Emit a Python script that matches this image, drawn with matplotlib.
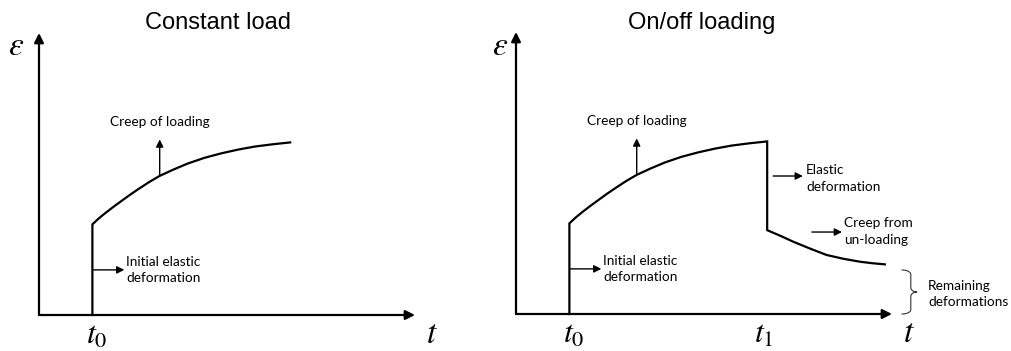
import matplotlib.pyplot as plt
import numpy as np

plt.rcParams['mathtext.fontset'] = 'stix'

# creep curve while loaded (arbitrary units)
t0 = 1.42
load_t = [1.42, 1.58, 1.75, 1.97, 2.19, 2.41, 2.63, 2.92, 3.21, 3.58, 3.96,
          4.40, 4.85, 5.30, 5.74, 6.21, 6.68]
load_eps = [2.41, 2.56, 2.70, 2.87, 3.03, 3.19, 3.34, 3.53, 3.70, 3.87, 4.03,
            4.18, 4.30, 4.40, 4.48, 4.54, 4.59]

# on/off case: unloading at t1
t1 = 6.68
unload_t = [6.68, 7.03, 7.38, 7.82, 8.26, 8.70, 9.15, 9.48, 9.81]
unload_eps = [2.23, 2.08, 1.92, 1.74, 1.57, 1.47, 1.39, 1.35, 1.32]
remaining = 1.17

titles = ['Constant load', 'On/off loading']

W, H = 1011, 351
fig = plt.figure(figsize=(W / 100, H / 100), dpi=100)

small = dict(family='Lato', fontsize=9.8, color='black', linespacing=1.45)
arrow_kw = dict(arrowstyle='-|>', lw=1.0, color='black', mutation_scale=11,
                shrinkA=0, shrinkB=0)


def make_axes(x0, y0):
    # 37.6 px per unit in both directions
    ax = fig.add_axes([x0 / W, (H - y0) / H, 376 / W, 282 / H])
    ax.set_xlim(0, 10)
    ax.set_ylim(0, 7.5)
    ax.axis('off')
    # axes with arrow heads
    for tip in [(10, 0), (0, 7.5)]:
        ax.annotate('', xy=tip, xytext=(0, 0), annotation_clip=False,
                    arrowprops=dict(arrowstyle='-|>', lw=1.6, color='black',
                                    mutation_scale=14, shrinkA=0, shrinkB=0))
    return ax


def arrow(ax, start, end):
    ax.annotate('', xy=end, xytext=start, annotation_clip=False, arrowprops=arrow_kw)


axes = [make_axes(39, 315), make_axes(516, 314)]

for i, ax in enumerate(axes):
    # loading path
    xs = [t0] + load_t
    ys = [0] + load_eps
    if i == 1:
        xs = xs + [t1] + unload_t
        ys = ys + [unload_eps[0]] + unload_eps
    ax.plot(xs, ys, color='black', lw=1.6, clip_on=False, solid_joinstyle='miter')

    # labels on axes
    ax.text(10.45, -0.5, '$t$', fontsize=24, ha='center', va='center')
    ax.text(t0 + 0.12, -0.55, r'$t_{\mathrm{0}}$', fontsize=23, ha='center', va='center')

    # creep annotation
    arrow(ax, (load_t[8], load_eps[8]), (load_t[8], 4.67))
    ax.text(load_t[8], 5.12, 'Creep of loading', ha='center', va='center', **small)

    # initial elastic
    arrow(ax, (t0, 1.2), (t0 + 0.85, 1.2))
    ax.text(t0 + 0.9, 1.2, 'Initial elastic\ndeformation', ha='left', va='center', **small)

axes[0].text(-0.61, 7.18, r'$\varepsilon$', fontsize=24, ha='center', va='center')
axes[1].text(-0.43, 7.15, r'$\varepsilon$', fontsize=24, ha='center', va='center')

ax = axes[1]
ax.text(t1 - 0.1, -0.55, r'$t_{\mathrm{1}}$', fontsize=23, ha='center', va='center')
arrow(ax, (6.84, 3.67), (7.63, 3.67))
ax.text(7.71, 3.6, 'Elastic\ndeformation', ha='left', va='center', **small)
arrow(ax, (7.87, 2.18), (8.67, 2.18))
ax.text(8.72, 2.19, 'Creep from\nun-loading', ha='left', va='center', **small)

# curly brace for the remaining part
bx, h, tip, r = 10.27, 0.23, 0.16, 0.12
mid = remaining / 2
th = np.linspace(0, np.pi / 2, 15)
hook_x = bx + h * np.sin(th)
hook_y = remaining - r * (1 - np.cos(th))
tip_x = bx + h + tip * (1 - np.cos(th))
tip_y = mid + r * (1 - np.sin(th))
upper_x = np.r_[hook_x, tip_x]
upper_y = np.r_[hook_y, tip_y]
ax.plot(np.r_[upper_x, upper_x[::-1]], np.r_[upper_y, remaining - upper_y[::-1]],
        color='#333333', lw=0.8, clip_on=False)
ax.text(10.96, 0.53, 'Remaining\ndeformations', ha='left', va='center', **small)

for x, title in zip([218, 702], titles):
    fig.text(x / W, 1 - 23 / H, title, family='Liberation Sans', fontsize=17,
             ha='center', va='center')

fig.savefig('out.png', dpi=100)
